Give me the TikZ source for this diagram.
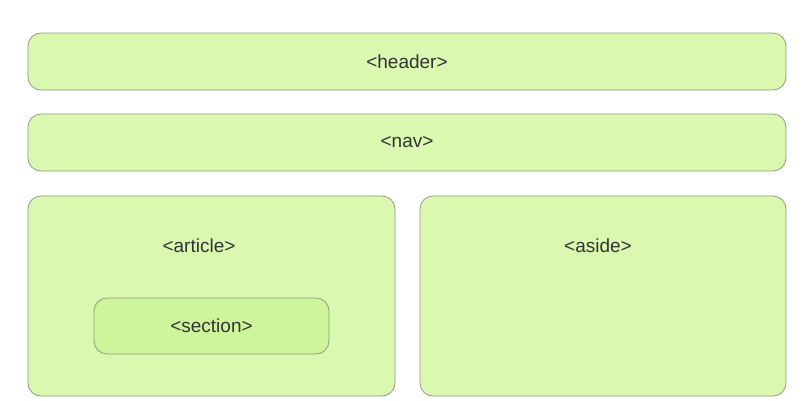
\documentclass[tikz,border=0pt]{standalone}
\usepackage{fontspec}
\setmainfont{Liberation Sans}
\definecolor{boxfill}{HTML}{DAF8B0}
\definecolor{innerfill}{HTML}{CFF59A}
\definecolor{boxline}{HTML}{8C9C80}
\definecolor{textcol}{HTML}{333333}
\tikzset{
  block/.style={draw=boxline, fill=boxfill, rounded corners=13pt, line width=0.8pt, inner sep=0pt},
  inner block/.style={block, fill=innerfill},
  tag/.style={text=textcol, font=\fontsize{19}{23}\selectfont, inner sep=0pt}
}
\begin{document}
\begin{tikzpicture}[x=1pt,y=-1pt]
 	\useasboundingbox (0,0) rectangle (809,400);
 	\node[block, minimum width=758pt, minimum height=57pt] (header) at (407,61.5) {};
 	\node[block, minimum width=758pt, minimum height=57pt] (nav) at (407,142.5) {};
 	\node[block, minimum width=367pt, minimum height=200pt] (article) at (211.5,296) {};
 	\node[block, minimum width=366pt, minimum height=200pt] (aside) at (603,296) {};
 	\node[inner block, minimum width=235pt, minimum height=56pt] (section) at (211.5,326) {};
 	
 	\node[tag] (headerlabel) at (header) {<header>};
 	\node[tag] (navlabel) at (nav) {<nav>};
 	\node[tag] (articlelabel) at (199,246) {<article>};
 	\node[tag] (asidelabel) at (598,246) {<aside>};
 	\node[tag] (sectionlabel) at (section) {<section>};
\end{tikzpicture}
\end{document}
